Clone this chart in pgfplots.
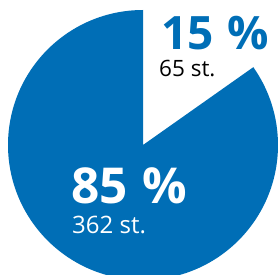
\documentclass[border=0pt]{standalone}
\usepackage{pgfplots}
\pgfplotsset{compat=1.18}
\usepackage{fontspec}
\setmainfont{Open Sans}
\definecolor{pieblue}{HTML}{006EB6}
\begin{document}
\begin{tikzpicture}
\def\valA{362}
\def\valB{65}
\pgfmathsetmacro\angB{360*(\valB/(\valA+\valB))}
\pgfmathsetmacro\endA{450-\angB}
\begin{axis}[
  scale only axis, width=278pt, height=275pt,
  xmin=0, xmax=278, ymin=0, ymax=275, y dir=reverse,
  hide axis, clip=true,
]
\fill[pieblue] (axis cs:143,145) -- ++(90:135pt) arc[start angle=90, end angle=\endA, radius=135pt] -- cycle;
\node[anchor=base west, inner sep=0, text=pieblue, font=\fontsize{46}{46}\selectfont\bfseries] at (axis cs:161,50) {15\hspace{0.3em}\%};
\node[anchor=base west, inner sep=0, text=black, font=\fontsize{22.5}{22.5}\selectfont] at (axis cs:159,77) {65 st.};
\node[anchor=base west, inner sep=0, text=white, font=\fontsize{49.5}{49.5}\selectfont\bfseries] at (axis cs:71,203) {85\hspace{0.3em}\%};
\node[anchor=base west, inner sep=0, text=white, font=\fontsize{24}{24}\selectfont] at (axis cs:72,233) {362 st.};
\end{axis}
\pgfresetboundingbox
\useasboundingbox (current axis.south west) rectangle (current axis.north east);
\end{tikzpicture}
\end{document}
